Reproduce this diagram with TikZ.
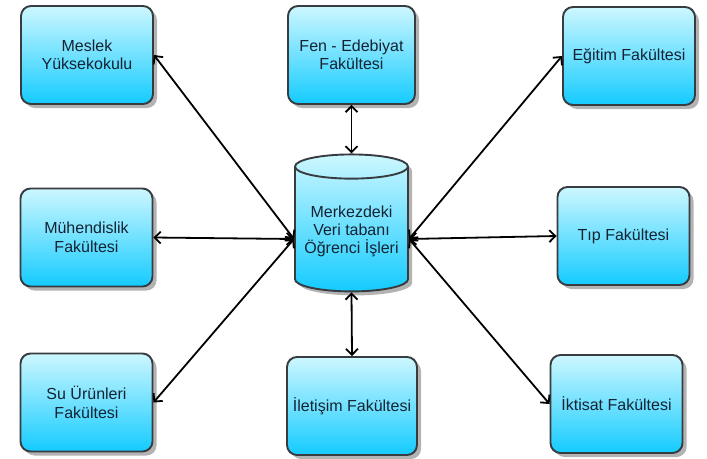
\documentclass[tikz,border=0pt]{standalone}
\usepackage{fontspec}
\setmainfont{Liberation Sans}
\usepackage{xcolor}
\usepackage{tikz}
\usetikzlibrary{shapes.geometric, shadows, arrows.meta}

\definecolor{boxtop}{RGB}{205,247,255}
\definecolor{boxbot}{RGB}{20,203,255}
\definecolor{boxline}{RGB}{55,60,65}
\definecolor{txt}{RGB}{20,35,50}

\begin{document}
\begin{tikzpicture}[x=1pt, y=-1pt,
  fk/.style={draw=boxline, line width=1.9pt, rounded corners=10pt,
             top color=boxtop, bottom color=boxbot,
             minimum width=132pt, minimum height=98pt, align=center,
             text=txt, font=\fontsize{16}{18.5}\selectfont,
             drop shadow={shadow xshift=4pt, shadow yshift=-4pt, fill=black!50, opacity=0.6}},
  db/.style={cylinder, shape border rotate=90, aspect=0.24,
             draw=boxline, line width=1.9pt,
             top color=boxtop, bottom color=boxbot,
             minimum width=113pt, minimum height=137pt, align=center,
             text=txt, font=\fontsize{16}{18}\selectfont,
             drop shadow={shadow xshift=4pt, shadow yshift=-4pt, fill=black!50, opacity=0.6}},
  ok/.style={<->, line width=1.8pt, black},
  >={Straight Barb[length=6pt, width=12pt]}]
\useasboundingbox (0,0) rectangle (707,458);
\node[fk] (meslek) at (87,55) {Meslek\\Yüksekokulu};
\node[fk, minimum width=127pt] (fen) at (351.5,55) {Fen - Edebiyat\\Fakültesi};
\node[fk] (egitim) at (629,56) {Eğitim Fakültesi};
\node[fk] (muh) at (86.5,237.5) {Mühendislik\\Fakültesi};
\node[fk] (tip) at (623.5,236) {Tıp Fakültesi};
\node[fk] (su) at (86.5,402.5) {Su Ürünleri\\Fakültesi};
\node[fk, minimum width=130pt] (iletisim) at (352,406) {İletişim Fakültesi};
\node[fk] (iktisat) at (616.5,404) {İktisat Fakültesi};
\node[db] (vt) at (351.5,231.5) {Merkezdeki\\Veri tabanı\\Öğrenci İşleri};
\coordinate (vtL) at (294,239);
\coordinate (vtR) at (409,239);
\draw[ok] (meslek.east)--(vtL);
\draw[ok] (muh.east)--(vtL);
\draw[ok] (su.east)--(vtL);
\draw[ok] (egitim.west)--(vtR);
\draw[ok] (tip.west)--(vtR);
\draw[ok] (iktisat.west)--(vtR);
\draw[ok] (fen.south)--(vt.top);
\draw[ok] (iletisim.north)--(vt.bottom);
\end{tikzpicture}
\end{document}
